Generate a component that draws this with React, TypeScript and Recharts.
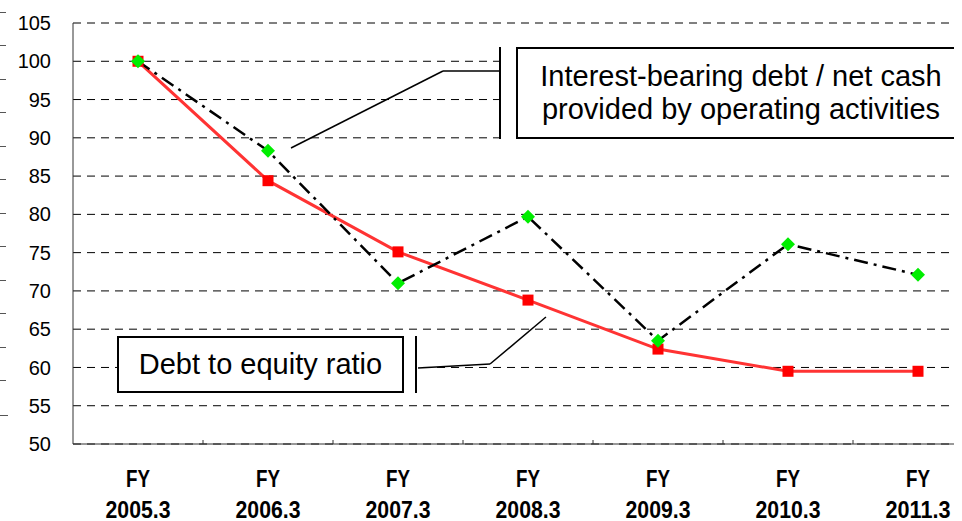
import React from "react";
import {
  LineChart,
  Line,
  XAxis,
  YAxis,
  CartesianGrid,
  ReferenceLine,
} from "recharts";

// FY-end ratios indexed to FY2005.3 = 100.
const years = ["2005.3", "2006.3", "2007.3", "2008.3", "2009.3", "2010.3", "2011.3"];
const debtToEquity = [100, 84.4, 75.1, 68.8, 62.4, 59.5, 59.5];
const debtToOpCash = [100, 88.3, 71.0, 79.7, 63.5, 76.1, 72.1];
const yTicks = [50, 55, 60, 65, 70, 75, 80, 85, 90, 95, 100, 105];

// x is the category slot centre on a 0..7 numeric axis so the
// boundary tick marks can sit on whole numbers.
const data = years.map((y, i) => ({
  x: i + 0.5,
  label: y,
  der: debtToEquity[i],
  ocf: debtToOpCash[i],
}));
const xTicks = [0.5, 1, 1.5, 2, 2.5, 3, 3.5, 4, 4.5, 5, 5.5, 6, 6.5];

// callout leader lines, in data coordinates
const leaderOcf = [
  { x: 3.285, y: 98.73 },
  { x: 2.846, y: 98.73 },
  { x: 1.677, y: 88.67 },
];
const leaderDer = [
  { x: 2.654, y: 59.93 },
  { x: 3.208, y: 60.45 },
  { x: 3.638, y: 66.59 },
];

const FONT = "'Liberation Sans', Arial, sans-serif";

function XTick(props: any) {
  const { x, y, payload } = props;
  const v = payload.value as number;
  if (Number.isInteger(v)) {
    return <line x1={x} x2={x} y1={y} y2={y - 4} stroke="#333" strokeWidth={1} />;
  }
  const label = years[Math.floor(v)];
  return (
    <g fontFamily={FONT} fontWeight="bold" fontSize={23} fill="#000">
      <text x={x} y={y + 43} textAnchor="middle" textLength={24} lengthAdjust="spacingAndGlyphs">
        FY
      </text>
      <text x={x} y={y + 74} textAnchor="middle" textLength={65} lengthAdjust="spacingAndGlyphs">
        {label}
      </text>
    </g>
  );
}

function Square(props: any) {
  const { cx, cy, index } = props;
  return <rect key={`sq-${index}`} x={cx - 5.5} y={cy - 5.5} width={11} height={11} fill="#ff0000" />;
}

function Diamond(props: any) {
  const { cx, cy, index } = props;
  const r = 7;
  return (
    <path
      key={`dm-${index}`}
      d={`M${cx},${cy - r}L${cx + r},${cy}L${cx},${cy + r}L${cx - r},${cy}Z`}
      fill="#00ee00"
    />
  );
}

const box: React.CSSProperties = {
  position: "absolute",
  boxSizing: "border-box",
  border: "2px solid #000",
  background: "#fff",
  fontFamily: FONT,
  fontSize: 29,
  lineHeight: "33px",
  color: "#000",
  display: "flex",
  alignItems: "center",
  justifyContent: "center",
  textAlign: "center",
  whiteSpace: "nowrap",
};

// stray tick marks of a neighbouring axis peeking in at the left edge (page coords)
const strayTicks = [12, 45, 79, 112, 146, 179, 213, 246, 280, 313, 347, 380];

export default function App() {
  return (
    <>
      {strayTicks.map((t) => (
        <div key={t} style={{ position: "absolute", left: 0, top: t, width: 6, height: 1, background: "#555" }} />
      ))}
      <div style={{ position: "absolute", left: 0, top: 411, width: 11, height: 5, borderRight: "1px solid #555", borderBottom: "1px solid #555", boxSizing: "border-box" }} />

      <div style={{ position: "relative", width: 954, height: 513, overflow: "hidden", background: "#fff" }}>
        <LineChart
          width={975}
          height={513}
          data={data}
          margin={{ top: 15, right: 0, bottom: 0, left: 0 }}
        >
          <CartesianGrid vertical={false} stroke="#000" strokeDasharray="8 6" />
          <XAxis
            dataKey="x"
            type="number"
            domain={[0, 7]}
            ticks={xTicks}
            interval={0}
            height={77}
            tickSize={0}
            tickMargin={0}
            tickLine={false}
            axisLine={{ stroke: "#333", strokeWidth: 1 }}
            tick={<XTick />}
          />
          <YAxis
            domain={[50, 105]}
            ticks={yTicks}
            width={65}
            tickSize={0}
            tickMargin={22}
            tickLine={false}
            axisLine={{ stroke: "#333", strokeWidth: 1 }}
            tick={{ fill: "#000", fontSize: 20, fontFamily: FONT }}
          />
          <Line
            type="linear"
            dataKey="der"
            stroke="#ff3333"
            strokeWidth={3}
            dot={Square}
            activeDot={false}
            isAnimationActive={false}
          />
          <Line
            type="linear"
            dataKey="ocf"
            stroke="#000"
            strokeWidth={2.5}
            strokeDasharray="14 6 3 6"
            dot={Diamond}
            activeDot={false}
            isAnimationActive={false}
          />
          <ReferenceLine segment={[leaderOcf[0], leaderOcf[1]]} stroke="#000" strokeWidth={1.5} ifOverflow="visible" />
          <ReferenceLine segment={[leaderOcf[1], leaderOcf[2]]} stroke="#000" strokeWidth={1.5} ifOverflow="visible" />
          <ReferenceLine segment={[leaderDer[0], leaderDer[1]]} stroke="#000" strokeWidth={1.5} ifOverflow="visible" />
          <ReferenceLine segment={[leaderDer[1], leaderDer[2]]} stroke="#000" strokeWidth={1.5} ifOverflow="visible" />
        </LineChart>

        {/* callout: interest-bearing debt / operating cash flow */}
        <div style={{ position: "absolute", left: 491, top: 39, width: 17, height: 92, background: "#fff", borderLeft: "2px solid #000", boxSizing: "border-box" }} />
        <div style={{ ...box, left: 508, top: 39, width: 450, height: 92 }}>
          Interest-bearing debt / net cash
          <br />
          provided by operating activities
        </div>

        {/* callout: debt to equity */}
        <div style={{ position: "absolute", left: 396, top: 328, width: 13, height: 57, background: "#fff", borderRight: "2px solid #000", boxSizing: "border-box" }} />
        <div style={{ ...box, left: 109, top: 328, width: 287, height: 57 }}>Debt to equity ratio</div>
      </div>
    </>
  );
}
